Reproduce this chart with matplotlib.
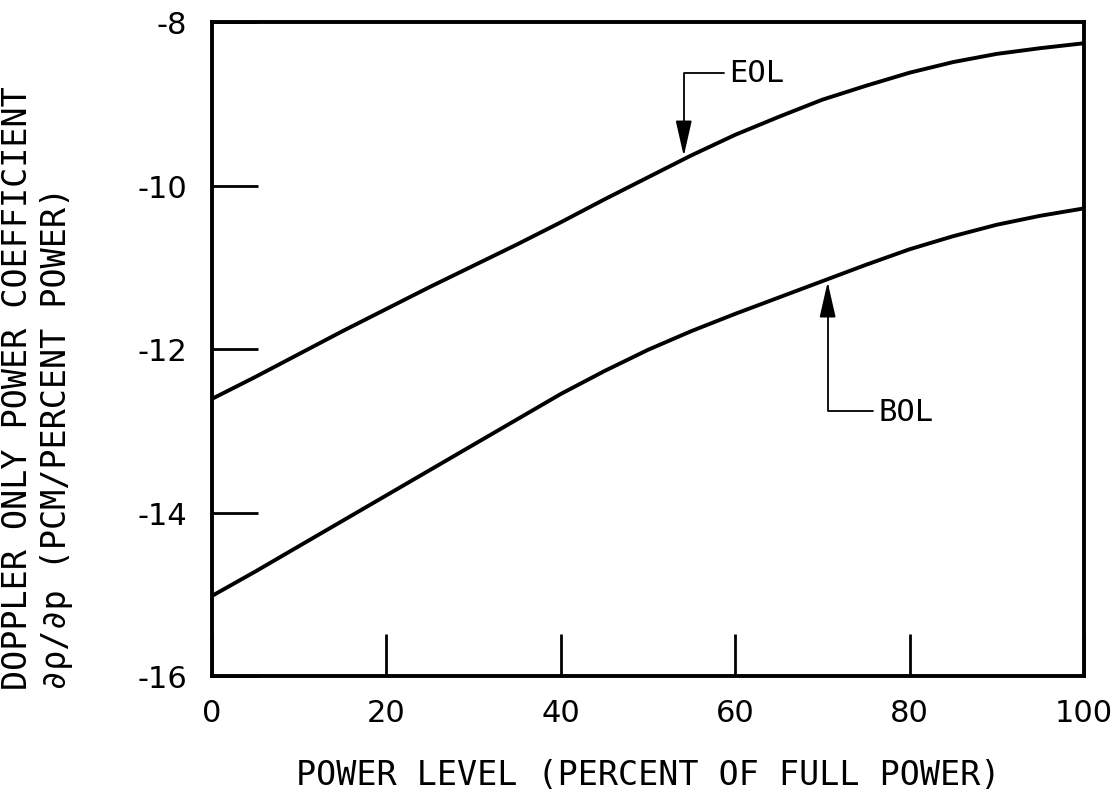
import matplotlib
matplotlib.use("Agg")
import matplotlib.pyplot as plt

# Power level (percent of full power)
power = [0, 5, 10, 15, 20, 25, 30, 35, 40, 45, 50,
         55, 60, 65, 70, 75, 80, 85, 90, 95, 100]

# Doppler only power coefficient (pcm / percent power)
eol = [-12.61, -12.34, -12.06, -11.78, -11.51, -11.24, -10.98, -10.72, -10.45, -10.17, -9.90,
       -9.63, -9.38, -9.16, -8.95, -8.78, -8.62, -8.49, -8.39, -8.32, -8.26]
bol = [-15.02, -14.72, -14.41, -14.10, -13.79, -13.48, -13.17, -12.86, -12.55, -12.27, -12.01,
       -11.78, -11.57, -11.37, -11.17, -10.97, -10.78, -10.62, -10.48, -10.37, -10.28]

x_ticks = [0, 20, 40, 60, 80, 100]
y_ticks = [-16, -14, -12, -10, -8]

plt.rcParams["axes.unicode_minus"] = False
label_font = ["DejaVu Sans Mono", "DejaVu Sans"]

fig = plt.figure(figsize=(11.2, 8.03), dpi=100)
ax = fig.add_axes([212 / 1120, 1 - 677 / 803, (1084 - 212) / 1120, (677 - 23) / 803])

ax.plot(power, eol, color="black", linewidth=2.8)
ax.plot(power, bol, color="black", linewidth=2.8)

ax.set_xlim(0, 100)
ax.set_ylim(-16, -8)
ax.set_xticks(x_ticks)
ax.set_yticks(y_ticks)
ax.tick_params(axis="both", direction="in", width=2, labelsize=22, colors="black")
ax.tick_params(axis="y", length=33, pad=18)
ax.tick_params(axis="x", length=30, pad=16)
for spine in ax.spines.values():
    spine.set_linewidth(2.8)

arrow = dict(arrowstyle="-|>,head_length=1.1,head_width=0.25", color="black",
             linewidth=1.3, mutation_scale=20, shrinkA=2, shrinkB=0, relpos=(0, 0.5),
             connectionstyle="angle,angleA=0,angleB=90,rad=0")
ax.annotate("EOL", xy=(54.1, -9.64), xytext=(59.3, -8.62), fontsize=22,
            fontfamily=label_font, ha="left", va="center", arrowprops=arrow)
ax.annotate("BOL", xy=(70.6, -11.18), xytext=(76.4, -12.76), fontsize=22,
            fontfamily=label_font, ha="left", va="center", arrowprops=arrow)

ax.set_xlabel("POWER LEVEL (PERCENT OF FULL POWER)", fontsize=24,
              fontfamily=label_font, labelpad=22)
fig.text(18 / 1120, 1 - 690 / 803, "DOPPLER ONLY POWER COEFFICIENT", rotation=90,
         fontsize=24, fontfamily=label_font, ha="center", va="bottom")
fig.text(57 / 1120, 1 - 690 / 803, "\u2202\u03c1/\u2202p (PCM/PERCENT POWER)", rotation=90,
         fontsize=24, fontfamily=label_font, ha="center", va="bottom")

fig.savefig("out.png", dpi=100, facecolor="white")
